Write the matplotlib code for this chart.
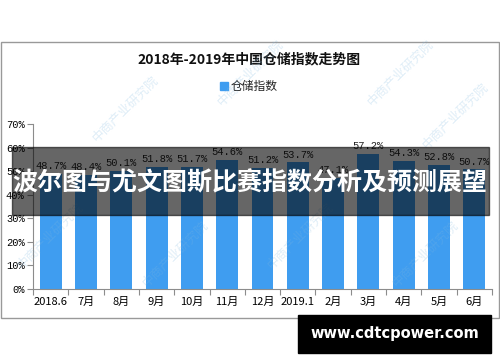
import matplotlib
matplotlib.use("Agg")
import matplotlib.pyplot as plt
from matplotlib.patches import Rectangle

plt.rcParams['font.family'] = ['Noto Sans CJK SC', 'DejaVu Sans']

# data
months = ['2018.6', '7月', '8月', '9月', '10月', '11月', '12月',
          '2019.1', '2月', '3月', '4月', '5月', '6月']
index_vals = [48.7, 48.4, 50.1, 51.8, 51.7, 54.6, 51.2, 53.7, 47.1, 57.2, 54.3, 52.8, 50.7]
title = '2018年-2019年中国仓储指数走势图'
series_name = '仓储指数'
banner = '波尔图与尤文图斯比赛指数分析及预测展望'
site = 'www.cdtcpower.com'

bar_color = '#3f9df0'
grey = '#8c8c8c'

fig = plt.figure(figsize=(5, 3.62), dpi=100)
ax = fig.add_axes([0.066, 0.2017, 0.918, 0.4558])

x = range(len(months))
vals = [v / 100 for v in index_vals]
ax.bar(x, vals, width=0.62, color=bar_color, zorder=2)
for i, v in zip(x, index_vals):
    ax.text(i, v / 100 + 0.012, f'{v:.1f}%', ha='center', va='bottom',
            fontsize=7.5, family='Liberation Mono', color='#222222')

ax.set_xlim(-0.5, len(months) - 0.5)
ax.set_ylim(0, 0.7)
ax.set_yticks([i / 10 for i in range(8)])
ax.set_yticklabels([f'{i * 10}%' for i in range(8)], fontsize=7.5, family='Liberation Mono')
# boundary ticks between months, labels centred on bars
ax.set_xticks([i + 0.5 for i in range(-1, len(months))])
ax.set_xticklabels([])
ax.set_xticks(list(x), minor=True)
ax.set_xticklabels(months, minor=True, fontsize=8)
ax.tick_params(axis='x', which='minor', length=0, pad=6)
ax.tick_params(axis='x', which='major', length=4, color=grey)
ax.tick_params(axis='y', length=4, color=grey, pad=2)
for s in ['top', 'right']:
    ax.spines[s].set_visible(False)
for s in ['left', 'bottom']:
    ax.spines[s].set_color(grey)

# title and legend
fig.text(0.498, 0.837, title, ha='center', va='center', fontsize=10,
         weight='bold', color='#111111')
fig.add_artist(Rectangle((0.440, 0.751), 0.016, 0.022, transform=fig.transFigure,
                         color=bar_color))
fig.text(0.462, 0.762, series_name, ha='left', va='center', fontsize=8.5, color='#222222')

# outer border
fig.add_artist(Rectangle((0.002, 0.1215), 0.996, 0.762, transform=fig.transFigure,
                         fill=False, edgecolor='#999999', lw=1))

# faint watermarks
for wx, wy in [(0.25, 0.7), (0.5, 0.8), (0.8, 0.8), (0.91, 0.68),
               (0.1, 0.35), (0.35, 0.3), (0.6, 0.35), (0.85, 0.3)]:
    fig.text(wx, wy, '中商产业研究院', rotation=45, ha='center', va='center',
             fontsize=9, color='#7fb8e0', alpha=0.25, zorder=3)

# dark banner
fig.add_artist(Rectangle((0.024, 0.406), 0.954, 0.188, transform=fig.transFigure,
                         color='black', alpha=0.6, zorder=5))
fig.text(0.5, 0.495, banner, ha='center', va='center', fontsize=18,
         weight='bold', color='white', zorder=6)

# site box
fig.add_artist(Rectangle((0.596, 0.025), 0.386, 0.105, transform=fig.transFigure,
                         color='black', zorder=5))
fig.text(0.789, 0.0775, site, ha='center', va='center', fontsize=10.5,
         weight='bold', color='white', zorder=6, family='DejaVu Sans')

fig.savefig('out.png', dpi=100)
